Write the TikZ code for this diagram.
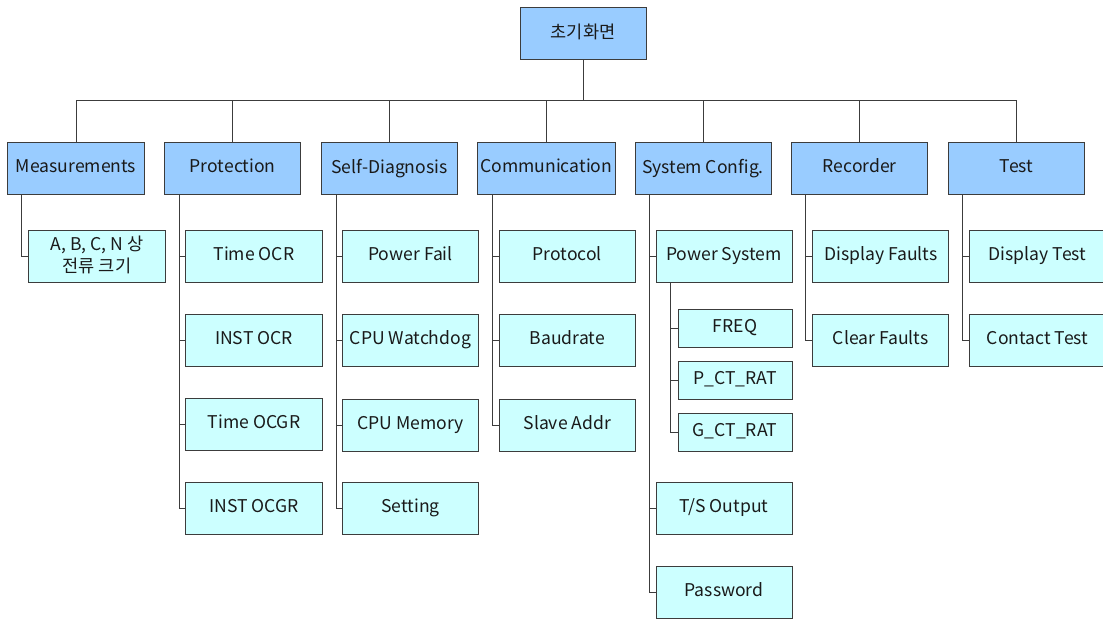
\documentclass[tikz,border=0pt]{standalone}
\usepackage{fontspec}
\newfontfamily\krfont{Noto Sans CJK KR}
\usetikzlibrary{positioning, calc}
\definecolor{catblue}{HTML}{99CCFF}
\definecolor{itemcyan}{HTML}{CCFFFF}
\definecolor{edgegray}{HTML}{3C3C3C}
\definecolor{txtdark}{HTML}{1A1A1A}

\begin{document}
\begin{tikzpicture}[
  x=0.025cm, y=-0.025cm,
  menu/.style={
    draw=edgegray, line width=0.7pt, fill=#1, minimum width=3.4cm,
    minimum height=1.3cm, font=\krfont\fontsize{12.5}{15.5}\selectfont,
    text=txtdark, align=center, inner sep=2pt, text depth=3pt
  },
  submenu/.style={menu=itemcyan, minimum width=2.85cm, minimum height=0.95cm},
  link/.style={line width=0.7pt, edgegray},
]

\useasboundingbox (0,0) rectangle (1103,618);

% Root
\node[menu=catblue, minimum width=3.15cm] (root) at (583,33) {초기화면};
\coordinate (bus) at (0,100);

% =============================================
% Categories
% =============================================
\node[menu=catblue] (meas) at (76,168)     {Measurements};
\node[menu=catblue] (prot) at (232.75,168) {Protection};
\node[menu=catblue] (diag) at (389.5,168)  {Self-Diagnosis};
\node[menu=catblue] (comm) at (546.25,168) {Communication};
\node[menu=catblue] (sys)  at (703,168)    {System Config.};
\node[menu=catblue] (rec)  at (859.75,168) {Recorder};
\node[menu=catblue] (test) at (1016.5,168) {Test};

% Bus from root
\draw[link] (root.south) -- (root.south |- bus);
\draw[link] (meas.north) |- (test.north |- bus) -- (test.north);
\draw[link] (prot.north) -- (prot.north |- bus);
\draw[link] (diag.north) -- (diag.north |- bus);
\draw[link] (comm.north) -- (comm.north |- bus);
\draw[link] (sys.north) -- (sys.north |- bus);
\draw[link] (rec.north) -- (rec.north |- bus);

% =============================================
% Measurements
% =============================================
\node[menu=itemcyan] (meas-1) at (97,256) {A, B, C, N 상\\전류 크기};
\draw[link] ([xshift=10]meas.south west) |- (meas-1.west);

% =============================================
% Protection
% =============================================
\node[menu=itemcyan] (prot-1) at (254,256) {Time OCR};
\node[menu=itemcyan] (prot-2) at (254,340) {INST OCR};
\node[menu=itemcyan] (prot-3) at (254,424) {Time OCGR};
\node[menu=itemcyan] (prot-4) at (254,508) {INST OCGR};
\draw[link] ([xshift=11]prot.south west) |- (prot-4.west);
\draw[link] ([xshift=11]prot.south west |- prot-1.west) -- (prot-1.west);
\draw[link] ([xshift=11]prot.south west |- prot-2.west) -- (prot-2.west);
\draw[link] ([xshift=11]prot.south west |- prot-3.west) -- (prot-3.west);

% =============================================
% Self-Diagnosis
% =============================================
\node[menu=itemcyan] (diag-1) at (410.5,256) {Power Fail};
\node[menu=itemcyan] (diag-2) at (410.5,340) {CPU Watchdog};
\node[menu=itemcyan] (diag-3) at (410.5,425) {CPU Memory};
\node[menu=itemcyan] (diag-4) at (410.5,508) {Setting};
\draw[link] ([xshift=11]diag.south west) |- (diag-4.west);
\draw[link] ([xshift=11]diag.south west |- diag-1.west) -- (diag-1.west);
\draw[link] ([xshift=11]diag.south west |- diag-2.west) -- (diag-2.west);
\draw[link] ([xshift=11]diag.south west |- diag-3.west) -- (diag-3.west);

% =============================================
% Communication
% =============================================
\node[menu=itemcyan] (comm-1) at (567.25,256) {Protocol};
\node[menu=itemcyan] (comm-2) at (567.25,340) {Baudrate};
\node[menu=itemcyan] (comm-3) at (567.25,425) {Slave Addr};
\draw[link] ([xshift=11]comm.south west) |- (comm-3.west);
\draw[link] ([xshift=11]comm.south west |- comm-1.west) -- (comm-1.west);
\draw[link] ([xshift=11]comm.south west |- comm-2.west) -- (comm-2.west);

% =============================================
% System Config.
% =============================================
\node[menu=itemcyan] (sys-1) at (724,256) {Power System};
\node[submenu] (sys-1a) at (735,328) {FREQ};
\node[submenu] (sys-1b) at (735,380) {P\_CT\_RAT};
\node[submenu] (sys-1c) at (735,432) {G\_CT\_RAT};
\node[menu=itemcyan] (sys-2) at (724,508) {T/S Output};
\node[menu=itemcyan] (sys-3) at (724,592) {Password};
\draw[link] ([xshift=11]sys.south west) |- (sys-3.west);
\draw[link] ([xshift=11]sys.south west |- sys-1.west) -- (sys-1.west);
\draw[link] ([xshift=11]sys.south west |- sys-2.west) -- (sys-2.west);
\draw[link] ([xshift=11]sys-1.south west) |- (sys-1c.west);
\draw[link] ([xshift=11]sys-1.south west |- sys-1a.west) -- (sys-1a.west);
\draw[link] ([xshift=11]sys-1.south west |- sys-1b.west) -- (sys-1b.west);

% =============================================
% Recorder
% =============================================
\node[menu=itemcyan] (rec-1) at (880.75,256) {Display Faults};
\node[menu=itemcyan] (rec-2) at (880.75,340) {Clear Faults};
\draw[link] ([xshift=10]rec.south west) |- (rec-2.west);
\draw[link] ([xshift=10]rec.south west |- rec-1.west) -- (rec-1.west);

% =============================================
% Test
% =============================================
\node[menu=itemcyan] (test-1) at (1037.5,256) {Display Test};
\node[menu=itemcyan] (test-2) at (1037.5,340) {Contact Test};
\draw[link] ([xshift=10]test.south west) |- (test-2.west);
\draw[link] ([xshift=10]test.south west |- test-1.west) -- (test-1.west);

\end{tikzpicture}
\end{document}
